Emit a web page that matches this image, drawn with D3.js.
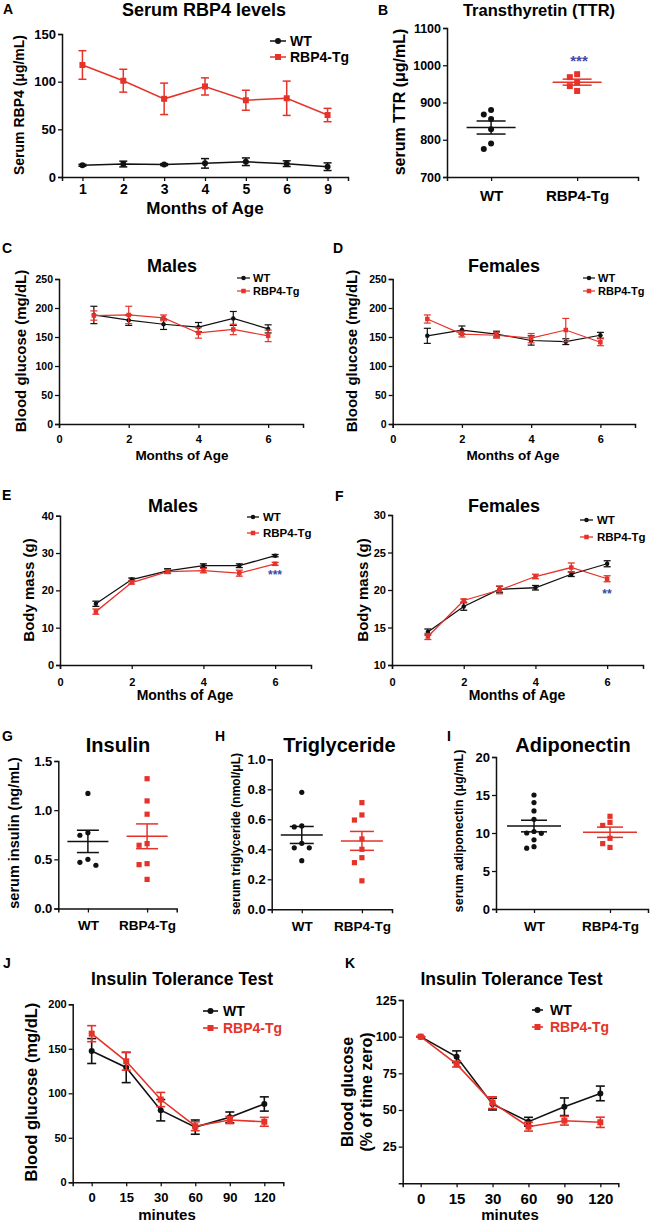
<!DOCTYPE html>
<html><head><meta charset="utf-8">
<script src="https://cdn.jsdelivr.net/npm/d3@7"></script>
<style>
body{margin:0;background:#fff}
svg{display:block}
text{font-family:"Liberation Sans",Arial,Helvetica,sans-serif;font-weight:bold}
</style>
</head><body>
<svg id="c" width="650" height="1223"></svg>
<script>
// ---------------- DATA ----------------
const groups = ["WT", "RBP4-Tg"];

// A: serum RBP4 (mean, SEM)
const monthsA = ["1", "2", "3", "4", "5", "6", "9"];
const rbp4WT = [12.3, 13.6, 13, 14.3, 16, 14, 10.8];
const rbp4WTErr = [1, 3, 1, 5, 4, 3, 4];
const rbp4Tg = [117.5, 101, 82, 95, 80.5, 82.6, 65];
const rbp4TgErr = [15, 12, 16.5, 9, 10.5, 18, 7];

// B: transthyretin individual values
const ttrWT = [880, 868, 856, 828, 790, 775];
const ttrTg = [976, 968, 954, 944, 931];

// C-F: months of age
const monthsCF = [1, 2, 3, 4, 5, 6];
const glucMaleWT = [188, 179, 172, 167, 182, 164];
const glucMaleWTErr = [15, 9, 9, 8, 12, 7];
const glucMaleTg = [187, 188, 183, 157, 163, 152];
const glucMaleTgErr = [8, 15, 5, 9, 9, 10];
const glucFemWT = [152, 162, 155, 144, 142, 153];
const glucFemWTErr = [13, 7, 5, 8, 5, 5];
const glucFemTg = [181, 155, 153, 148, 162, 141];
const glucFemTgErr = [7, 5, 5, 8, 20, 6];

const massMaleWT = [16.4, 22.9, 25.2, 26.6, 26.6, 29.3];
const massMaleWTErr = [0.7, 0.4, 0.6, 0.5, 0.5, 0.3];
const massMaleTg = [14.3, 22.1, 25.0, 25.3, 24.6, 27.1];
const massMaleTgErr = [0.7, 0.4, 0.5, 0.6, 0.8, 0.4];
const massFemWT = [14.4, 17.8, 20.1, 20.3, 22.1, 23.5];
const massFemWTErr = [0.4, 0.5, 0.4, 0.3, 0.3, 0.4];
const massFemTg = [13.8, 18.6, 20.0, 21.8, 23.0, 21.5];
const massFemTgErr = [0.4, 0.2, 0.5, 0.3, 0.6, 0.4];

// G-I: individual values
const insulinWT = [1.17, 0.77, 0.745, 0.50, 0.47, 0.44];
const insulinTg = [1.32, 1.094, 0.959, 0.66, 0.643, 0.456, 0.446, 0.296];
const trigWT = [0.78, 0.556, 0.549, 0.44, 0.41, 0.41, 0.324];
const trigTg = [0.711, 0.629, 0.595, 0.469, 0.40, 0.344, 0.311, 0.19];
const adipoWT = [15.0, 14.0, 12.9, 11.8, 10.2, 10.0, 9.96, 9.1, 8.2, 8.0];
const adipoTg = [12.2, 11.4, 11.0, 9.3, 8.6, 8.1];

// J-K: insulin tolerance test
const ittMinutes = ["0", "15", "30", "60", "90", "120"];
const ittWT = [147.5, 129, 81, 62, 73, 88];
const ittWTErr = [14, 17, 12, 8, 6, 8];
const ittTg = [167, 136, 93, 63, 70, 68];
const ittTgErr = [9, 10, 8, 5, 4, 5];
const ittPctWT = [100, 86.3, 54, 42, 52.2, 61.3];
const ittPctWTErr = [0, 4, 4, 3, 6, 5];
const ittPctTg = [100, 81.3, 55, 38.6, 42.7, 41.6];
const ittPctTgErr = [0, 2, 4, 3, 3, 3.5];

// ---------------- DRAWING ----------------
const RED = "#e5332a", BLUE = "#3b4aa8", BLK = "#111";
const svg = d3.select("#c");

function txt(x, y, s, size, o = {}) {
  return svg.append("text").attr("x", x).attr("y", y).attr("font-size", size)
    .attr("text-anchor", o.anchor || "middle").attr("fill", o.fill || "#000").text(s);
}
function vtxt(cx, cy, s, size) {
  return svg.append("text").attr("transform", `translate(${cx},${cy}) rotate(-90)`)
    .attr("text-anchor", "middle").attr("dominant-baseline", "central")
    .attr("font-size", size).text(s);
}
function marker(g, shape, cx, cy, sz, color) {
  if (shape === "circle") g.append("circle").attr("cx", cx).attr("cy", cy).attr("r", sz / 2).attr("fill", color);
  else g.append("rect").attr("x", cx - sz / 2).attr("y", cy - sz / 2).attr("width", sz).attr("height", sz).attr("fill", color);
}
function styleAxis(sel, fs, sw) {
  sel.select(".domain").attr("stroke", BLK).attr("stroke-width", sw);
  sel.selectAll(".tick line").attr("stroke", BLK).attr("stroke-width", sw * 0.85);
  sel.selectAll(".tick text").attr("font-size", fs).attr("fill", "#000")
    .attr("font-family", '"Liberation Sans",Arial,sans-serif').attr("font-weight", "bold");
}
function drawAxes(p, x, y) {
  const ya = d3.axisLeft(y).tickValues(p.yTicks).tickSizeOuter(0).tickSize(p.tick || 4)
    .tickPadding(p.yPad || 2).tickFormat(p.yFmt || d3.format("d"));
  styleAxis(svg.append("g").attr("transform", `translate(${p.x0},0)`).call(ya), p.yFs, p.sw || 1.5);
  const xa = d3.axisBottom(x).tickSizeOuter(0).tickSize(p.tick || 4).tickPadding(p.xPad || 3);
  if (p.xTicks) xa.tickValues(p.xTicks).tickFormat(d3.format("d"));
  styleAxis(svg.append("g").attr("transform", `translate(0,${p.yb})`).call(xa), p.xFs, p.sw || 1.5);
}
function legend(p, entries) {
  entries.forEach((e, i) => {
    const ly = p.legY[i];
    const g = svg.append("g");
    g.append("line").attr("x1", p.legX[0]).attr("x2", p.legX[1]).attr("y1", ly).attr("y2", ly)
      .attr("stroke", e.color).attr("stroke-width", p.lw);
    marker(g, e.shape, (p.legX[0] + p.legX[1]) / 2, ly, p.ms, e.color);
    txt(p.legX[2], ly, e.name, p.legFs, { anchor: "start", fill: e.textColor || "#000" })
      .attr("dominant-baseline", "central");
  });
}
function linePanel(p) {
  const x = p.xScale, y = p.yScale;
  drawAxes(p, x, y);
  const g = svg.append("g");
  p.series.forEach(s => {
    const pts = s.vals.map((v, i) => ({ x: x(p.xs[i]), y: y(v), lo: y(v - s.errs[i]), hi: y(v + s.errs[i]) }));
    g.append("path").datum(pts).attr("fill", "none").attr("stroke", s.color).attr("stroke-width", p.lw)
      .attr("d", d3.line().x(d => d.x).y(d => d.y));
    pts.forEach(d => {
      g.append("line").attr("x1", d.x).attr("x2", d.x).attr("y1", d.lo).attr("y2", d.hi)
        .attr("stroke", s.color).attr("stroke-width", p.lw);
      [d.lo, d.hi].forEach(yy => g.append("line").attr("x1", d.x - p.cap).attr("x2", d.x + p.cap)
        .attr("y1", yy).attr("y2", yy).attr("stroke", s.color).attr("stroke-width", p.lw));
    });
    pts.forEach(d => marker(g, s.shape, d.x, d.y, p.ms, s.color));
  });
  legend(p, p.series);
}
function swarm(vals, y, step, minD) {
  const order = vals.map((v, i) => i).sort((a, b) => vals[b] - vals[a]);
  const placed = [], off = new Array(vals.length).fill(0);
  for (const i of order) {
    const py = y(vals[i]);
    for (let k = 0; k < 30; k++) {
      const o = k === 0 ? 0 : (k % 2 ? -1 : 1) * Math.ceil(k / 2) * step;
      if (placed.every(q => Math.hypot(q.o - o, q.py - py) >= minD)) { off[i] = o; placed.push({ o, py }); break; }
    }
  }
  return off;
}
function scatterPanel(p) {
  const x = d3.scalePoint().domain(groups).range([p.x0, p.x1])
    .padding(p.pad != null ? p.pad : 0.5).align(p.align != null ? p.align : 0.5);
  const y = p.yScale;
  drawAxes(p, x, y);
  const g = svg.append("g");
  p.sets.forEach((s, gi) => {
    const cx = x(groups[gi]);
    const m = d3.mean(s.vals), sem = d3.deviation(s.vals) / Math.sqrt(s.vals.length);
    const off = swarm(s.vals, y, p.step, p.minD);
    s.vals.forEach((v, i) => marker(g, s.shape, cx + off[i], y(v), p.ms, s.color));
    const line = (x1, x2, y1, y2) => g.append("line").attr("x1", x1).attr("x2", x2).attr("y1", y1).attr("y2", y2)
      .attr("stroke", s.color).attr("stroke-width", p.lw);
    line(cx - p.mw, cx + p.mw, y(m), y(m));
    line(cx - p.sw2, cx + p.sw2, y(m + sem), y(m + sem));
    line(cx - p.sw2, cx + p.sw2, y(m - sem), y(m - sem));
    line(cx, cx, y(m + sem), y(m - sem));
  });
}

// ---- Panel A ----
linePanel({
  x0: 62, yb: 177,
  xScale: d3.scalePoint().domain(monthsA).range([62, 348]).padding(0.5),
  yScale: d3.scaleLinear().domain([0, 150]).range([177, 34]),
  yTicks: [0, 50, 100, 150], yFs: 13, xFs: 14, xPad: 3,
  xs: monthsA, lw: 1.5, ms: 6, cap: 4,
  series: [
    { name: "WT", vals: rbp4WT, errs: rbp4WTErr, color: BLK, shape: "circle" },
    { name: "RBP4-Tg", vals: rbp4Tg, errs: rbp4TgErr, color: RED, shape: "square" }
  ],
  legX: [270, 286, 290], legY: [41, 57], legFs: 14
});
txt(3, 14, "A", 14, { anchor: "start" });
txt(204, 16, "Serum RBP4 levels", 18);
vtxt(18.5, 105, "Serum RBP4 (μg/mL)", 14);
txt(205, 214, "Months of Age", 17);

// ---- Panel B ----
scatterPanel({
  x0: 447, x1: 638, yb: 177, pad: 0.61, align: 0.42,
  yScale: d3.scaleLinear().domain([700, 1100]).range([177, 28]),
  yTicks: [700, 800, 900, 1000, 1100], yFs: 12.5, xFs: 15, xPad: 9,
  sets: [{ vals: ttrWT, color: BLK, shape: "circle" }, { vals: ttrTg, color: RED, shape: "square" }],
  step: 7.3, minD: 6.5, ms: 6, lw: 1.5, mw: 24.5, sw2: 14.5
});
txt(378, 15, "B", 14, { anchor: "start" });
txt(539, 16, "Transthyretin (TTR)", 16.5);
vtxt(399, 102, "serum TTR (μg/mL)", 16);
txt(579, 66, "***", 15, { fill: BLUE });

// ---- Panels C, D ----
const glucY = d3.scaleLinear().domain([0, 250]);
linePanel({
  x0: 59, yb: 424,
  xScale: d3.scaleLinear().domain([0, 7]).range([59, 303]),
  yScale: glucY.copy().range([424, 279]),
  yTicks: [0, 50, 100, 150, 200, 250], xTicks: [0, 2, 4, 6], yFs: 10.5, xFs: 11, xPad: 7,
  xs: monthsCF, lw: 1.2, ms: 4.5, cap: 3.5,
  series: [
    { name: "WT", vals: glucMaleWT, errs: glucMaleWTErr, color: BLK, shape: "circle" },
    { name: "RBP4-Tg", vals: glucMaleTg, errs: glucMaleTgErr, color: RED, shape: "square" }
  ],
  legX: [237, 250, 253], legY: [278, 291], legFs: 11
});
txt(2, 253, "C", 14, { anchor: "start" });
txt(172, 272, "Males", 18);
vtxt(20, 351, "Blood glucose (mg/dL)", 15);
txt(182, 460, "Months of Age", 13.5);

linePanel({
  x0: 392.7, yb: 424,
  xScale: d3.scaleLinear().domain([0, 7]).range([392.7, 635]),
  yScale: glucY.copy().range([424, 279]),
  yTicks: [0, 50, 100, 150, 200, 250], xTicks: [0, 2, 4, 6], yFs: 10.5, xFs: 11, xPad: 7,
  xs: monthsCF, lw: 1.2, ms: 4.5, cap: 3.5,
  series: [
    { name: "WT", vals: glucFemWT, errs: glucFemWTErr, color: BLK, shape: "circle" },
    { name: "RBP4-Tg", vals: glucFemTg, errs: glucFemTgErr, color: RED, shape: "square" }
  ],
  legX: [583, 595, 598], legY: [278, 291], legFs: 11
});
txt(333, 253, "D", 14, { anchor: "start" });
txt(504, 272, "Females", 18);
vtxt(351, 351, "Blood glucose (mg/dL)", 15);
txt(513, 460, "Months of Age", 13.5);

// ---- Panels E, F ----
linePanel({
  x0: 60, yb: 665,
  xScale: d3.scaleLinear().domain([0, 7]).range([60, 311]),
  yScale: d3.scaleLinear().domain([0, 40]).range([665, 515.7]),
  yTicks: [0, 10, 20, 30, 40], xTicks: [0, 2, 4, 6], yFs: 11, xFs: 11, xPad: 9,
  xs: monthsCF, lw: 1.3, ms: 4.5, cap: 3.5,
  series: [
    { name: "WT", vals: massMaleWT, errs: massMaleWTErr, color: BLK, shape: "circle" },
    { name: "RBP4-Tg", vals: massMaleTg, errs: massMaleTgErr, color: RED, shape: "square" }
  ],
  legX: [247, 259, 263], legY: [517, 533], legFs: 11.5
});
txt(2, 500, "E", 14, { anchor: "start" });
txt(173, 512, "Males", 18);
vtxt(28, 590, "Body mass (g)", 15);
txt(185, 700, "Months of Age", 14);
txt(275, 579, "***", 12, { fill: BLUE });

linePanel({
  x0: 392, yb: 665,
  xScale: d3.scaleLinear().domain([0, 7]).range([392, 643]),
  yScale: d3.scaleLinear().domain([10, 30]).range([665, 515]),
  yTicks: [10, 15, 20, 25, 30], xTicks: [0, 2, 4, 6], yFs: 11, xFs: 11, xPad: 9,
  xs: monthsCF, lw: 1.3, ms: 4.5, cap: 3.5,
  series: [
    { name: "WT", vals: massFemWT, errs: massFemWTErr, color: BLK, shape: "circle" },
    { name: "RBP4-Tg", vals: massFemTg, errs: massFemTgErr, color: RED, shape: "square" }
  ],
  legX: [580, 593, 597], legY: [520, 537], legFs: 11.5
});
txt(335, 501, "F", 14, { anchor: "start" });
txt(504, 512, "Females", 18);
vtxt(362, 590, "Body mass (g)", 15);
txt(517, 700, "Months of Age", 14);
txt(607, 598, "**", 12, { fill: BLUE });

// ---- Panels G, H, I ----
scatterPanel({
  x0: 58.3, x1: 176.7, yb: 908.5,
  yScale: d3.scaleLinear().domain([0, 1.5]).range([908.5, 761]),
  yTicks: [0, 0.5, 1.0, 1.5], yFmt: d3.format(".1f"), yFs: 13, xFs: 13.5, xPad: 8,
  sets: [{ vals: insulinWT, color: BLK, shape: "circle" }, { vals: insulinTg, color: RED, shape: "square" }],
  step: 8, minD: 6, ms: 5.2, lw: 1.5, mw: 20.5, sw2: 11
});
txt(2, 741, "G", 14, { anchor: "start" });
txt(118, 752, "Insulin", 20);
vtxt(14, 833, "serum insulin (ng/mL)", 14.5);

scatterPanel({
  x0: 271.7, x1: 392, yb: 909.3,
  yScale: d3.scaleLinear().domain([0, 1]).range([909.3, 759.3]),
  yTicks: [0, 0.2, 0.4, 0.6, 0.8, 1.0], yFmt: d3.format(".1f"), yFs: 13, xFs: 13.5, xPad: 8,
  sets: [{ vals: trigWT, color: BLK, shape: "circle" }, { vals: trigTg, color: RED, shape: "square" }],
  step: 7.5, minD: 6, ms: 5.2, lw: 1.5, mw: 21, sw2: 12
});
txt(215, 741, "H", 14, { anchor: "start" });
txt(339.5, 752, "Triglyceride", 20);
vtxt(236, 834, "serum triglyceride (nmol/μL)", 12);

scatterPanel({
  x0: 496, x1: 648, yb: 909,
  yScale: d3.scaleLinear().domain([0, 20]).range([909, 757]),
  yTicks: [0, 5, 10, 15, 20], yFs: 13, xFs: 13.5, xPad: 8,
  sets: [{ vals: adipoWT, color: BLK, shape: "circle" }, { vals: adipoTg, color: RED, shape: "square" }],
  step: 7.3, minD: 6, ms: 5.2, lw: 1.5, mw: 27, sw2: 13
});
txt(447, 741, "I", 14, { anchor: "start" });
txt(573, 752, "Adiponectin", 20);
vtxt(459, 831, "serum adiponectin (μg/mL)", 12.7);

// ---- Panels J, K ----
linePanel({
  x0: 72.7, yb: 1182.3,
  xScale: d3.scalePoint().domain(ittMinutes).range([72.7, 283.3]).padding(0.55),
  yScale: d3.scaleLinear().domain([0, 200]).range([1182.3, 1004.3]),
  yTicks: [0, 50, 100, 150, 200], yFs: 11, xFs: 13, xPad: 6,
  xs: ittMinutes, lw: 1.6, ms: 6, cap: 4.5,
  series: [
    { name: "WT", vals: ittWT, errs: ittWTErr, color: BLK, shape: "circle" },
    { name: "RBP4-Tg", vals: ittTg, errs: ittTgErr, color: RED, shape: "square", textColor: RED }
  ],
  legX: [203, 218, 223], legY: [1011, 1028], legFs: 14
});
txt(3, 968, "J", 14, { anchor: "start" });
txt(182, 985, "Insulin Tolerance Test", 17.5);
vtxt(31, 1092, "Blood glucose (mg/dL)", 16.5);
txt(167, 1220, "minutes", 15);

linePanel({
  x0: 402.7, yb: 1183.3,
  xScale: d3.scalePoint().domain(ittMinutes).range([402.7, 618.3]).padding(0.5),
  yScale: d3.scaleLinear().domain([0, 125]).range([1183.3, 1000]),
  yTicks: [25, 50, 75, 100, 125], yFs: 12.5, xFs: 15, xPad: 6,
  xs: ittMinutes, lw: 1.6, ms: 6, cap: 4.5,
  series: [
    { name: "WT", vals: ittPctWT, errs: ittPctWTErr, color: BLK, shape: "circle" },
    { name: "RBP4-Tg", vals: ittPctTg, errs: ittPctTgErr, color: RED, shape: "square", textColor: RED }
  ],
  legX: [532, 543, 550], legY: [1010, 1027], legFs: 14
});
txt(345, 968, "K", 14, { anchor: "start" });
txt(511.5, 985, "Insulin Tolerance Test", 17.5);
vtxt(347.5, 1092, "Blood glucose", 16);
vtxt(366, 1092, "(% of time zero)", 16);
txt(510, 1220, "minutes", 15);
</script>
</body></html>
